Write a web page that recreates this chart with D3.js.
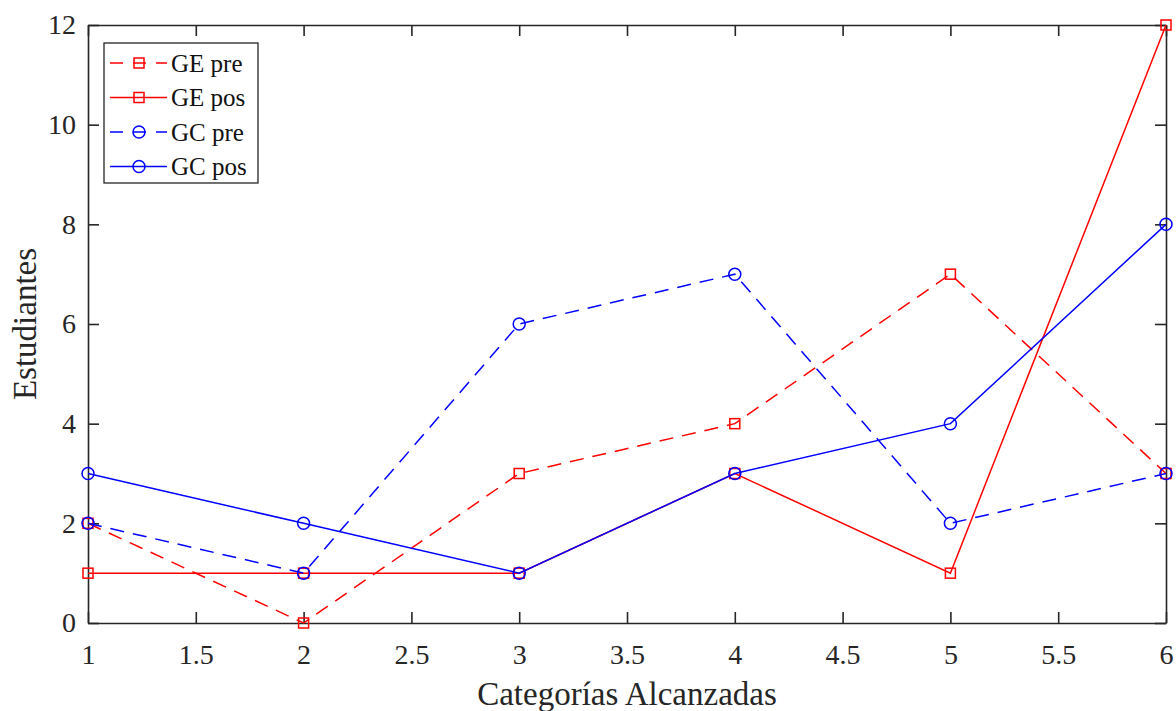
<!DOCTYPE html>
<html>
<head>
<meta charset="utf-8">
<script src="https://cdn.jsdelivr.net/npm/d3@7"></script>
<style>
  body { margin: 0; background: #fff; }
  svg { display: block; }
  svg text { font-family: "Liberation Serif", "Times New Roman", serif; }
</style>
</head>
<body>
<svg id="chart" width="1176" height="711"></svg>
<script>
// data
const categories = [1, 2, 3, 4, 5, 6];
const gePre = [2, 0, 3, 4, 7, 3];
const gePos = [1, 1, 1, 3, 1, 12];
const gcPre = [2, 1, 6, 7, 2, 3];
const gcPos = [3, 2, 1, 3, 4, 8];
const xTicks = [1, 1.5, 2, 2.5, 3, 3.5, 4, 4.5, 5, 5.5, 6];
const yTicks = [0, 2, 4, 6, 8, 10, 12];

const series = [
  { name: 'GE pre', values: gePre, color: '#ff0000', dashed: true, marker: 'square' },
  { name: 'GE pos', values: gePos, color: '#ff0000', dashed: false, marker: 'square' },
  { name: 'GC pre', values: gcPre, color: '#0000ff', dashed: true, marker: 'circle' },
  { name: 'GC pos', values: gcPos, color: '#0000ff', dashed: false, marker: 'circle' }
];

const svg = d3.select('#chart');
const plotL = 88, plotR = 1166, plotT = 25, plotB = 623;
const axisColor = '#262626';

const x = d3.scaleLinear().domain([1, 6]).range([plotL, plotR]);
const y = d3.scaleLinear().domain([0, 12]).range([plotB, plotT]);

const tickLen = 11;
const fmt = d => String(d);

// bottom axis
const gx = svg.append('g').attr('transform', `translate(0,${plotB})`)
  .call(d3.axisBottom(x).tickValues(xTicks).tickFormat(fmt).tickSizeInner(-tickLen).tickSizeOuter(0).tickPadding(20));
// top axis (ticks only)
const gxt = svg.append('g').attr('transform', `translate(0,${plotT})`)
  .call(d3.axisTop(x).tickValues(xTicks).tickFormat('').tickSizeInner(-tickLen).tickSizeOuter(0));
// left axis
const gy = svg.append('g').attr('transform', `translate(${plotL},0)`)
  .call(d3.axisLeft(y).tickValues(yTicks).tickFormat(fmt).tickSizeInner(-tickLen).tickSizeOuter(0).tickPadding(12));
// right axis (ticks only)
const gyr = svg.append('g').attr('transform', `translate(${plotR},0)`)
  .call(d3.axisRight(y).tickValues(yTicks).tickFormat('').tickSizeInner(-tickLen).tickSizeOuter(0));

[gx, gxt, gy, gyr].forEach(g => {
  g.attr('font-family', null);
  g.select('.domain').attr('stroke', axisColor).attr('stroke-width', 1.6);
  g.selectAll('.tick line').attr('stroke', axisColor).attr('stroke-width', 1.6);
  g.selectAll('.tick text').attr('fill', axisColor).attr('font-size', 28);
});
gx.selectAll('.tick text').attr('dy', '0.75em');

// axis titles
svg.append('text')
  .attr('x', (plotL + plotR) / 2).attr('y', 705)
  .attr('text-anchor', 'middle').attr('font-size', 33).attr('fill', axisColor)
  .text('Categorías Alcanzadas');
svg.append('text')
  .attr('transform', `translate(36,${(plotT + plotB) / 2}) rotate(-90)`)
  .attr('text-anchor', 'middle').attr('font-size', 33).attr('fill', axisColor)
  .text('Estudiantes');

// lines
const line = d3.line().x((d, i) => x(categories[i])).y(d => y(d));
const plot = svg.append('g');

function drawMarker(g, s, cx, cy) {
  if (s.marker === 'square') {
    g.append('rect').attr('x', cx - 5).attr('y', cy - 5).attr('width', 10).attr('height', 10)
      .attr('fill', 'none').attr('stroke', s.color).attr('stroke-width', 1.5);
  } else {
    g.append('circle').attr('cx', cx).attr('cy', cy).attr('r', 6)
      .attr('fill', 'none').attr('stroke', s.color).attr('stroke-width', 1.5);
  }
}

series.forEach(s => {
  plot.append('path')
    .attr('d', line(s.values))
    .attr('fill', 'none')
    .attr('stroke', s.color)
    .attr('stroke-width', 1.5)
    .attr('stroke-dasharray', s.dashed ? '14,9' : null);
  const mg = plot.append('g');
  s.values.forEach((v, i) => drawMarker(mg, s, x(categories[i]), y(v)));
});

// legend
const legend = svg.append('g');
legend.append('rect').attr('x', 104).attr('y', 43).attr('width', 154).attr('height', 140)
  .attr('fill', '#fff').attr('stroke', axisColor).attr('stroke-width', 1.3);
series.forEach((s, i) => {
  const ly = 63 + i * 34.5;
  legend.append('line').attr('x1', 110).attr('x2', 167).attr('y1', ly).attr('y2', ly)
    .attr('stroke', s.color).attr('stroke-width', 1.5)
    .attr('stroke-dasharray', s.dashed ? '13,10' : null);
  drawMarker(legend, s, 139, ly);
  legend.append('text').attr('x', 171).attr('y', ly).attr('dy', '0.35em')
    .attr('font-size', 25).attr('fill', '#111').text(s.name);
});
</script>
</body>
</html>
